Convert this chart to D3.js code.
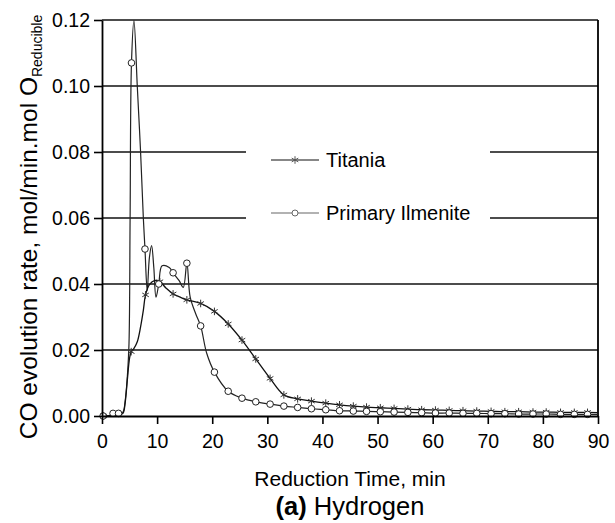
<!DOCTYPE html>
<html>
<head>
<meta charset="utf-8">
<script src="https://cdn.jsdelivr.net/npm/d3@7"></script>
<style>
body { margin: 0; background: #fff; }
text { font-family: "Liberation Sans", Arial, sans-serif; fill: #000; }
</style>
</head>
<body>
<div id="canvas"></div>
<script>
"use strict"

/* values (min, mol/min.mol O) */
let titaniaTime = [0, 0.3, 2, 3, 3.8, 4.2, 4.6, 5.0, 5.3, 5.8, 6.4, 7.0, 7.5, 7.9, 8.6, 9.5, 10.5, 11.6, 12.9, 14.2,
  15.4, 16.6, 17.9, 20.4, 22.9, 25.4, 27.9, 30.5, 33.0, 35.5, 38.0, 40.6, 43.1, 45.6, 48.0, 50.5, 53.0, 55.5,
  58.0, 60.5, 63.0, 65.5, 68.0, 70.6, 73.1, 75.6, 78.2, 80.6, 83.2, 85.7, 88.1, 90]
let titaniaRate = [0, 0, 0.0002, 0.0004, 0.0008, 0.004, 0.011, 0.0175, 0.0195, 0.0205, 0.0225, 0.027, 0.032, 0.0367,
  0.0398, 0.0410, 0.0407, 0.0388, 0.0370, 0.0360, 0.0352, 0.0347, 0.0341, 0.0317, 0.0279, 0.0230, 0.0173, 0.0114,
  0.0064, 0.0052, 0.0045, 0.0039, 0.0034, 0.0030, 0.0027, 0.0025, 0.0023, 0.0021, 0.0019, 0.0018, 0.0017, 0.0016,
  0.0015, 0.0014, 0.0013, 0.0013, 0.0012, 0.0012, 0.0011, 0.0011, 0.0011, 0.0010]
let titaniaMarks = [0.3, 5.3, 7.9, 10.5, 12.9, 15.4, 17.9, 20.4, 22.9, 25.4, 27.9, 30.5, 33.0, 35.5, 38.0, 40.6,
  43.1, 45.6, 48.0, 50.5, 53.0, 55.5, 58.0, 60.5, 63.0, 65.5, 68.0, 70.6, 73.1, 75.6, 78.2, 80.6, 83.2, 85.7, 88.1]

let ilmeniteTime = [0, 0.2, 1.5, 2.0, 2.5, 3.0, 3.5, 3.9, 4.3, 4.6, 4.9, 5.1, 5.35, 5.8, 6.4, 7.0, 7.5, 7.8, 8.2,
  8.6, 9.0, 9.4, 9.8, 10.3, 10.9, 12.2, 12.9, 14.0, 14.75, 15.4, 16.0, 17.0, 17.9, 19.0, 20.4, 22.9, 25.4, 27.9,
  30.5, 33.0, 35.5, 38.0, 40.6, 43.1, 45.6, 48.0, 50.5, 53.0, 55.5, 58.0, 60.5, 63.0, 65.5, 68.0, 70.6, 73.1,
  75.6, 78.2, 80.6, 83.2, 85.7, 88.1, 90]
let ilmeniteRate = [0, 0, 0.0002, 0.0008, 0.0010, 0.0008, 0.0005, 0.0015, 0.006, 0.012, 0.022, 0.060, 0.107, 0.1198,
  0.100, 0.080, 0.060, 0.0506, 0.038, 0.048, 0.0516, 0.045, 0.036, 0.0400, 0.0455, 0.0450, 0.0434, 0.0410, 0.0390,
  0.0463, 0.0360, 0.0310, 0.0273, 0.0190, 0.0133, 0.0075, 0.0054, 0.0043, 0.0036, 0.0030, 0.0026, 0.0022, 0.0019,
  0.0016, 0.0015, 0.0014, 0.0013, 0.0012, 0.0011, 0.0010, 0.0009, 0.0009, 0.0008, 0.0008, 0.0007, 0.0007, 0.0006,
  0.0006, 0.0006, 0.0005, 0.0005, 0.0005, 0.0005]
let ilmeniteMarks = [0.2, 2.0, 3.0, 5.35, 7.8, 10.3, 12.9, 15.4, 17.9, 20.4, 22.9, 25.4, 27.9, 30.5, 33.0, 35.5,
  38.0, 40.6, 43.1, 45.6, 48.0, 50.5, 53.0, 55.5, 58.0, 60.5, 63.0, 65.5, 68.0, 70.6, 73.1, 75.6, 78.2, 80.6,
  83.2, 85.7, 88.1]

let xTicks = [0, 10, 20, 30, 40, 50, 60, 70, 80, 90]
let yTicks = [0, 0.02, 0.04, 0.06, 0.08, 0.10, 0.12]
let seriesNames = ["Titania", "Primary Ilmenite"]

let width = 615
let height = 523

let drawing = d3.select("#canvas")
    .append("svg")
    .attr("width", width)
    .attr("height", height)

drawing.append("rect")
    .attr("width", width)
    .attr("height", height)
    .attr("fill", "white")

let x = d3.scaleLinear().domain([0, 90]).range([102, 598])
let y = d3.scaleLinear().domain([0, 0.12]).range([416, 20])

/* horizontal grid lines at every y tick */
drawing.append("g")
    .selectAll("line")
    .data(yTicks.filter(d => d > 0))
    .join("line")
    .attr("x1", x(0))
    .attr("x2", x(90))
    .attr("y1", d => y(d))
    .attr("y2", d => y(d))
    .attr("stroke", "#111")
    .attr("stroke-width", 1.6)

/* right border */
drawing.append("line")
    .attr("x1", x(90)).attr("x2", x(90))
    .attr("y1", y(0.12)).attr("y2", y(0))
    .attr("stroke", "black")
    .attr("stroke-width", 1.8)

/* legend box hides the grid behind it */
let legend = drawing.append("g")
legend.append("rect")
    .attr("x", 246)
    .attr("y", 128)
    .attr("width", 244)
    .attr("height", 118)
    .attr("fill", "white")

/* curves */
let line = d3.line()
    .x(d => x(d[0]))
    .y(d => y(d[1]))
    .curve(d3.curveCatmullRom.alpha(0.5))

let titania = titaniaTime.map((t, i) => [t, titaniaRate[i]])
let ilmenite = ilmeniteTime.map((t, i) => [t, ilmeniteRate[i]])

drawing.append("path")
    .datum(ilmenite)
    .attr("d", line)
    .attr("fill", "none")
    .attr("stroke", "#222")
    .attr("stroke-width", 1.2)

drawing.append("path")
    .datum(titania)
    .attr("d", line)
    .attr("fill", "none")
    .attr("stroke", "#111")
    .attr("stroke-width", 1.3)

let star = d3.symbol().type(d3.symbolAsterisk).size(40)

drawing.append("g")
    .selectAll("path")
    .data(titania.filter(d => titaniaMarks.includes(d[0])))
    .join("path")
    .attr("transform", d => `translate(${x(d[0])},${y(d[1])})`)
    .attr("d", star)
    .attr("fill", "none")
    .attr("stroke", "#333")
    .attr("stroke-width", 1)

drawing.append("g")
    .selectAll("circle")
    .data(ilmenite.filter(d => ilmeniteMarks.includes(d[0])))
    .join("circle")
    .attr("cx", d => x(d[0]))
    .attr("cy", d => y(d[1]))
    .attr("r", 3.3)
    .attr("fill", "white")
    .attr("stroke", "#222")
    .attr("stroke-width", 1)

/* axes */
let xAxis = drawing.append("g")
    .attr("transform", `translate(0,${y(0)})`)
    .call(d3.axisBottom(x).tickValues(xTicks).tickSize(8).tickSizeOuter(0).tickPadding(10))
let yAxis = drawing.append("g")
    .attr("transform", `translate(${x(0)},0)`)
    .call(d3.axisLeft(y).tickValues(yTicks).tickSize(8).tickSizeOuter(0).tickPadding(4)
        .tickFormat(d3.format(".2f")))

for (let ax of [xAxis, yAxis]) {
  ax.select(".domain").attr("stroke-width", 1.8)
  ax.selectAll(".tick line").attr("stroke-width", 1.6)
  ax.selectAll(".tick text")
      .attr("font-family", "Liberation Sans, Arial, sans-serif")
      .attr("font-size", 19.5)
      .attr("fill", "black")
}

/* legend entries */
let entries = legend.selectAll("g.entry")
    .data(seriesNames)
    .join("g")
    .attr("class", "entry")
    .attr("transform", (d, i) => `translate(0,${160 + i * 53})`)

entries.append("line")
    .attr("x1", 271).attr("x2", 319)
    .attr("stroke", (d, i) => i === 0 ? "#111" : "#666")
    .attr("stroke-width", 1.2)
entries.filter((d, i) => i === 0).append("path")
    .attr("transform", "translate(295,0)")
    .attr("d", star)
    .attr("fill", "none")
    .attr("stroke", "#555")
entries.filter((d, i) => i === 1).append("circle")
    .attr("cx", 295)
    .attr("r", 3)
    .attr("fill", "white")
    .attr("stroke", "#666")
entries.append("text")
    .attr("x", 326)
    .attr("dy", "0.35em")
    .attr("font-size", 20)
    .text(d => d)

/* titles */
let yTitle = drawing.append("text")
    .attr("transform", "translate(37,227) rotate(-90)")
    .attr("text-anchor", "middle")
    .attr("font-size", 24.5)
yTitle.append("tspan").text("CO evolution rate, mol/min.mol O")
yTitle.append("tspan")
    .attr("font-size", 14)
    .attr("dy", 5)
    .text("Reducible")

drawing.append("text")
    .attr("x", 350)
    .attr("y", 486)
    .attr("text-anchor", "middle")
    .attr("font-size", 21)
    .text("Reduction Time, min")

let caption = drawing.append("text")
    .attr("x", 350)
    .attr("y", 515)
    .attr("text-anchor", "middle")
    .attr("font-size", 25.5)
caption.append("tspan").attr("font-weight", "bold").text("(a)")
caption.append("tspan").text(" Hydrogen")
</script>
</body>
</html>
